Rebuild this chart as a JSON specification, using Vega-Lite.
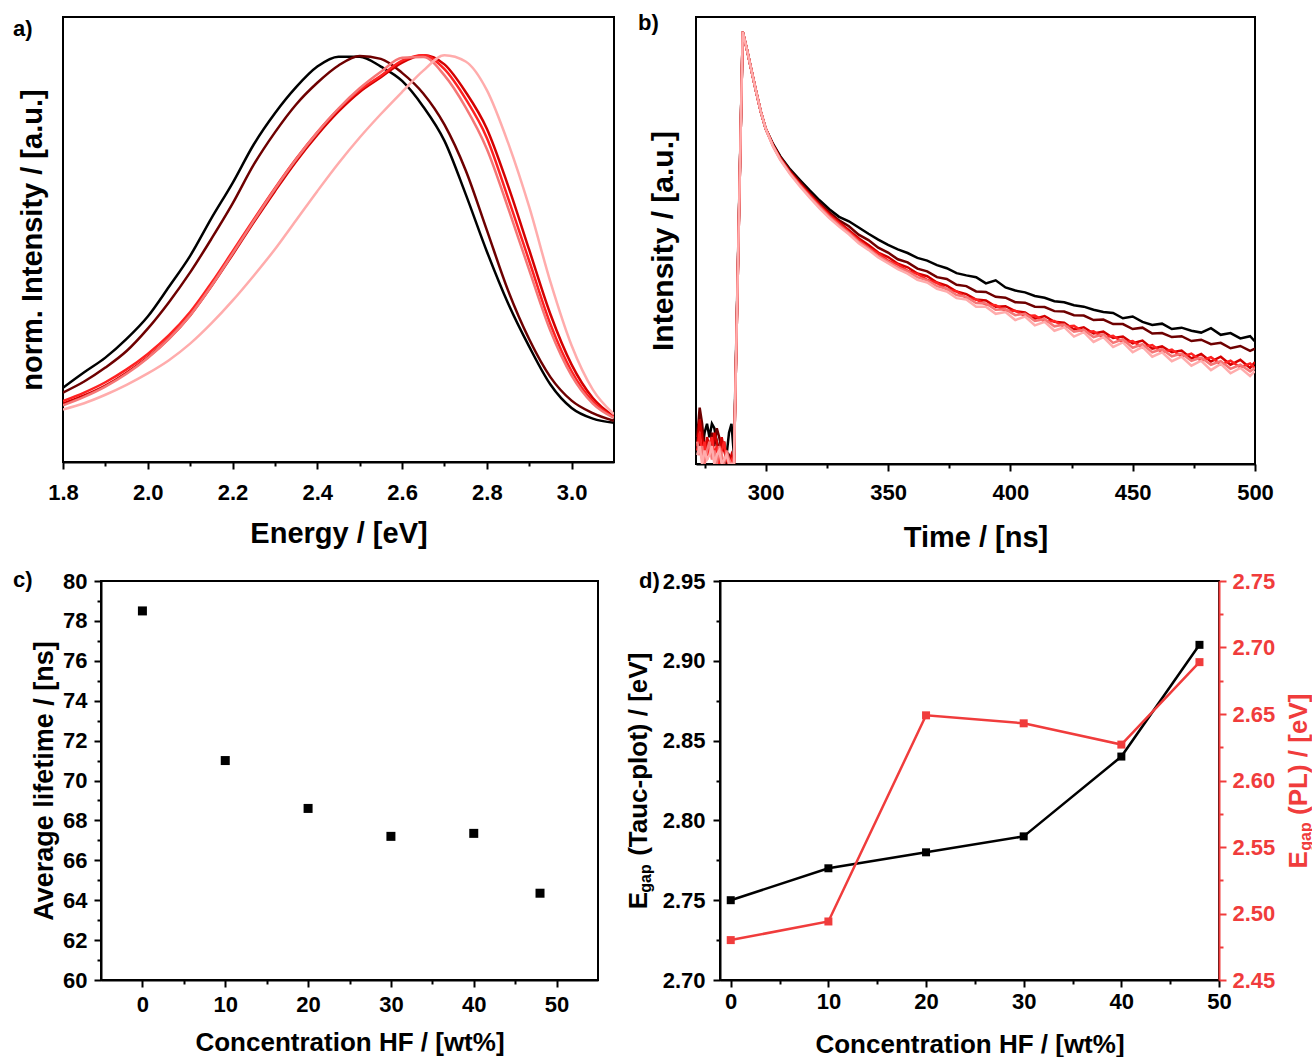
{
  "$schema": "https://vega.github.io/schema/vega-lite/v6.json",
  "background": "white",
  "padding": {"left": 0, "top": 11, "right": 0, "bottom": 0},
  "autosize": {"type": "pad"},
  "config": {
    "font": "Liberation Sans",
    "view": {"stroke": "#000000", "strokeWidth": 2},
    "axis": {"grid": false, "domainColor": "#000000", "domainWidth": 2, "tickColor": "#000000", "tickWidth": 2, "tickSize": 7,
             "labelFont": "Liberation Sans", "labelFontSize": 22, "labelFontWeight": "bold", "labelColor": "#000000",
             "labelFlush": false, "labelOverlap": false,
             "titleFont": "Liberation Sans", "titleFontSize": 26, "titleFontWeight": "bold", "titleColor": "#000000"},
    "title": {"font": "Liberation Sans", "fontSize": 22, "fontWeight": "bold", "color": "#000000", "anchor": "start", "frame": "group", "baseline": "middle", "offset": 0}
  },
  "datasets": {
    "pl": [
      {"s":"0","e":1.80,"v":0.095},{"s":"0","e":1.85,"v":0.137},{"s":"0","e":1.90,"v":0.177},{"s":"0","e":1.95,"v":0.228},{"s":"0","e":2.00,"v":0.289},{"s":"0","e":2.05,"v":0.370},{"s":"0","e":2.10,"v":0.454},{"s":"0","e":2.15,"v":0.556},{"s":"0","e":2.20,"v":0.652},{"s":"0","e":2.25,"v":0.757},{"s":"0","e":2.30,"v":0.842},{"s":"0","e":2.35,"v":0.913},{"s":"0","e":2.40,"v":0.969},{"s":"0","e":2.45,"v":0.996},{"s":"0","e":2.50,"v":0.996},{"s":"0","e":2.55,"v":0.969},{"s":"0","e":2.60,"v":0.930},{"s":"0","e":2.65,"v":0.860},{"s":"0","e":2.70,"v":0.767},{"s":"0","e":2.75,"v":0.622},{"s":"0","e":2.80,"v":0.466},{"s":"0","e":2.85,"v":0.325},{"s":"0","e":2.90,"v":0.207},{"s":"0","e":2.95,"v":0.104},{"s":"0","e":3.00,"v":0.040},{"s":"0","e":3.05,"v":0.011},{"s":"0","e":3.10,"v":0.000},
      {"s":"10","e":1.80,"v":0.082},{"s":"10","e":1.85,"v":0.112},{"s":"10","e":1.90,"v":0.150},{"s":"10","e":1.95,"v":0.195},{"s":"10","e":2.00,"v":0.256},{"s":"10","e":2.05,"v":0.328},{"s":"10","e":2.10,"v":0.409},{"s":"10","e":2.15,"v":0.500},{"s":"10","e":2.20,"v":0.596},{"s":"10","e":2.25,"v":0.702},{"s":"10","e":2.30,"v":0.790},{"s":"10","e":2.35,"v":0.866},{"s":"10","e":2.40,"v":0.925},{"s":"10","e":2.45,"v":0.972},{"s":"10","e":2.50,"v":0.998},{"s":"10","e":2.55,"v":0.990},{"s":"10","e":2.60,"v":0.952},{"s":"10","e":2.65,"v":0.896},{"s":"10","e":2.70,"v":0.811},{"s":"10","e":2.75,"v":0.687},{"s":"10","e":2.80,"v":0.524},{"s":"10","e":2.85,"v":0.360},{"s":"10","e":2.90,"v":0.227},{"s":"10","e":2.95,"v":0.124},{"s":"10","e":3.00,"v":0.060},{"s":"10","e":3.05,"v":0.026},{"s":"10","e":3.10,"v":0.005},
      {"s":"20","e":1.80,"v":0.052},{"s":"20","e":1.85,"v":0.074},{"s":"20","e":1.90,"v":0.101},{"s":"20","e":1.95,"v":0.136},{"s":"20","e":2.00,"v":0.178},{"s":"20","e":2.05,"v":0.229},{"s":"20","e":2.10,"v":0.292},{"s":"20","e":2.15,"v":0.371},{"s":"20","e":2.20,"v":0.457},{"s":"20","e":2.25,"v":0.545},{"s":"20","e":2.30,"v":0.630},{"s":"20","e":2.35,"v":0.711},{"s":"20","e":2.40,"v":0.783},{"s":"20","e":2.45,"v":0.847},{"s":"20","e":2.50,"v":0.900},{"s":"20","e":2.55,"v":0.940},{"s":"20","e":2.60,"v":0.980},{"s":"20","e":2.65,"v":1.000},{"s":"20","e":2.70,"v":0.975},{"s":"20","e":2.75,"v":0.900},{"s":"20","e":2.80,"v":0.800},{"s":"20","e":2.85,"v":0.645},{"s":"20","e":2.90,"v":0.470},{"s":"20","e":2.95,"v":0.295},{"s":"20","e":3.00,"v":0.158},{"s":"20","e":3.05,"v":0.067},{"s":"20","e":3.10,"v":0.017},
      {"s":"30","e":1.80,"v":0.059},{"s":"30","e":1.85,"v":0.082},{"s":"30","e":1.90,"v":0.110},{"s":"30","e":1.95,"v":0.145},{"s":"30","e":2.00,"v":0.187},{"s":"30","e":2.05,"v":0.238},{"s":"30","e":2.10,"v":0.301},{"s":"30","e":2.15,"v":0.380},{"s":"30","e":2.20,"v":0.466},{"s":"30","e":2.25,"v":0.553},{"s":"30","e":2.30,"v":0.638},{"s":"30","e":2.35,"v":0.718},{"s":"30","e":2.40,"v":0.790},{"s":"30","e":2.45,"v":0.853},{"s":"30","e":2.50,"v":0.905},{"s":"30","e":2.55,"v":0.944},{"s":"30","e":2.60,"v":0.985},{"s":"30","e":2.65,"v":1.000},{"s":"30","e":2.70,"v":0.962},{"s":"30","e":2.75,"v":0.881},{"s":"30","e":2.80,"v":0.775},{"s":"30","e":2.85,"v":0.612},{"s":"30","e":2.90,"v":0.440},{"s":"30","e":2.95,"v":0.268},{"s":"30","e":3.00,"v":0.140},{"s":"30","e":3.05,"v":0.058},{"s":"30","e":3.10,"v":0.014},
      {"s":"40","e":1.80,"v":0.047},{"s":"40","e":1.85,"v":0.070},{"s":"40","e":1.90,"v":0.098},{"s":"40","e":1.95,"v":0.133},{"s":"40","e":2.00,"v":0.176},{"s":"40","e":2.05,"v":0.228},{"s":"40","e":2.10,"v":0.292},{"s":"40","e":2.15,"v":0.372},{"s":"40","e":2.20,"v":0.460},{"s":"40","e":2.25,"v":0.549},{"s":"40","e":2.30,"v":0.636},{"s":"40","e":2.35,"v":0.717},{"s":"40","e":2.40,"v":0.790},{"s":"40","e":2.45,"v":0.855},{"s":"40","e":2.50,"v":0.910},{"s":"40","e":2.55,"v":0.955},{"s":"40","e":2.60,"v":0.993},{"s":"40","e":2.65,"v":0.995},{"s":"40","e":2.70,"v":0.945},{"s":"40","e":2.75,"v":0.858},{"s":"40","e":2.80,"v":0.745},{"s":"40","e":2.85,"v":0.585},{"s":"40","e":2.90,"v":0.415},{"s":"40","e":2.95,"v":0.250},{"s":"40","e":3.00,"v":0.128},{"s":"40","e":3.05,"v":0.052},{"s":"40","e":3.10,"v":0.013},
      {"s":"48","e":1.80,"v":0.036},{"s":"48","e":1.85,"v":0.053},{"s":"48","e":1.90,"v":0.076},{"s":"48","e":1.95,"v":0.103},{"s":"48","e":2.00,"v":0.134},{"s":"48","e":2.05,"v":0.170},{"s":"48","e":2.10,"v":0.215},{"s":"48","e":2.15,"v":0.270},{"s":"48","e":2.20,"v":0.332},{"s":"48","e":2.25,"v":0.400},{"s":"48","e":2.30,"v":0.472},{"s":"48","e":2.35,"v":0.551},{"s":"48","e":2.40,"v":0.630},{"s":"48","e":2.45,"v":0.706},{"s":"48","e":2.50,"v":0.776},{"s":"48","e":2.55,"v":0.840},{"s":"48","e":2.60,"v":0.900},{"s":"48","e":2.65,"v":0.958},{"s":"48","e":2.70,"v":1.000},{"s":"48","e":2.75,"v":0.983},{"s":"48","e":2.80,"v":0.905},{"s":"48","e":2.85,"v":0.762},{"s":"48","e":2.90,"v":0.587},{"s":"48","e":2.95,"v":0.383},{"s":"48","e":3.00,"v":0.210},{"s":"48","e":3.05,"v":0.090},{"s":"48","e":3.10,"v":0.023}
    ],
    "trpl": [
      {"s":"0","t":272,"v":0.02},{"s":"0","t":273,"v":0.05},{"s":"0","t":274,"v":0.03},{"s":"0","t":275,"v":0.07},{"s":"0","t":276,"v":0.09},{"s":"0","t":277,"v":0.06},{"s":"0","t":278,"v":0.09},{"s":"0","t":279,"v":0.08},{"s":"0","t":280,"v":0.05},{"s":"0","t":281,"v":0.03},{"s":"0","t":282,"v":0.01},{"s":"0","t":283,"v":0.0},{"s":"0","t":284,"v":0.02},{"s":"0","t":285,"v":0.07},{"s":"0","t":286,"v":0.09},{"s":"0","t":287,"v":0.02},
      {"s":"0","t":290.6,"v":0.967},{"s":"0","t":292.2,"v":0.93},{"s":"0","t":294,"v":0.885},{"s":"0","t":296,"v":0.835},{"s":"0","t":298,"v":0.788},{"s":"0","t":300,"v":0.75},
      {"s":"0","t":303,"v":0.716},{"s":"0","t":306,"v":0.688},{"s":"0","t":310,"v":0.659},{"s":"0","t":314,"v":0.635},{"s":"0","t":318,"v":0.612},{"s":"0","t":322,"v":0.59},
      {"s":"0","t":326,"v":0.570},{"s":"0","t":330,"v":0.553},{"s":"0","t":334,"v":0.543},{"s":"0","t":338,"v":0.529},{"s":"0","t":342,"v":0.515},{"s":"0","t":346,"v":0.502},{"s":"0","t":350,"v":0.490},{"s":"0","t":354,"v":0.480},{"s":"0","t":358,"v":0.472},{"s":"0","t":362,"v":0.461},{"s":"0","t":366,"v":0.455},{"s":"0","t":370,"v":0.445},{"s":"0","t":374,"v":0.438},{"s":"0","t":378,"v":0.427},{"s":"0","t":382,"v":0.422},{"s":"0","t":386,"v":0.418},{"s":"0","t":390,"v":0.404},{"s":"0","t":394,"v":0.411},{"s":"0","t":398,"v":0.395},{"s":"0","t":402,"v":0.388},{"s":"0","t":406,"v":0.384},{"s":"0","t":410,"v":0.376},{"s":"0","t":414,"v":0.372},{"s":"0","t":418,"v":0.364},{"s":"0","t":422,"v":0.362},{"s":"0","t":426,"v":0.355},{"s":"0","t":430,"v":0.352},{"s":"0","t":434,"v":0.345},{"s":"0","t":438,"v":0.340},{"s":"0","t":442,"v":0.338},{"s":"0","t":446,"v":0.326},{"s":"0","t":450,"v":0.330},{"s":"0","t":454,"v":0.318},{"s":"0","t":458,"v":0.311},{"s":"0","t":462,"v":0.314},{"s":"0","t":466,"v":0.302},{"s":"0","t":470,"v":0.305},{"s":"0","t":474,"v":0.298},{"s":"0","t":478,"v":0.294},{"s":"0","t":482,"v":0.304},{"s":"0","t":486,"v":0.289},{"s":"0","t":490,"v":0.293},{"s":"0","t":494,"v":0.281},{"s":"0","t":498,"v":0.286},{"s":"0","t":500,"v":0.274},
      {"s":"10","t":272,"v":0.06},{"s":"10","t":273,"v":0.126},{"s":"10","t":274,"v":0.09},{"s":"10","t":275,"v":0.03},{"s":"10","t":276,"v":0.05},{"s":"10","t":277,"v":0.02},{"s":"10","t":278,"v":0.07},{"s":"10","t":279,"v":0.04},{"s":"10","t":280,"v":0.08},{"s":"10","t":281,"v":0.06},{"s":"10","t":282,"v":0.03},{"s":"10","t":283,"v":0.05},{"s":"10","t":284,"v":0.0},{"s":"10","t":285,"v":0.02},{"s":"10","t":286,"v":0.01},{"s":"10","t":287,"v":0.0},
      {"s":"10","t":290.6,"v":0.967},{"s":"10","t":292.2,"v":0.93},{"s":"10","t":294,"v":0.885},{"s":"10","t":296,"v":0.835},{"s":"10","t":298,"v":0.788},{"s":"10","t":300,"v":0.75},
      {"s":"10","t":303,"v":0.714},{"s":"10","t":306,"v":0.686},{"s":"10","t":310,"v":0.656},{"s":"10","t":314,"v":0.631},{"s":"10","t":318,"v":0.606},{"s":"10","t":322,"v":0.584},
      {"s":"10","t":326,"v":0.563},{"s":"10","t":330,"v":0.545},{"s":"10","t":334,"v":0.532},{"s":"10","t":338,"v":0.513},{"s":"10","t":342,"v":0.501},{"s":"10","t":346,"v":0.484},{"s":"10","t":350,"v":0.473},{"s":"10","t":354,"v":0.458},{"s":"10","t":358,"v":0.451},{"s":"10","t":362,"v":0.437},{"s":"10","t":366,"v":0.431},{"s":"10","t":370,"v":0.418},{"s":"10","t":374,"v":0.414},{"s":"10","t":378,"v":0.401},{"s":"10","t":382,"v":0.398},{"s":"10","t":386,"v":0.386},{"s":"10","t":390,"v":0.385},{"s":"10","t":394,"v":0.374},{"s":"10","t":398,"v":0.372},{"s":"10","t":402,"v":0.362},{"s":"10","t":406,"v":0.361},{"s":"10","t":410,"v":0.352},{"s":"10","t":414,"v":0.351},{"s":"10","t":418,"v":0.342},{"s":"10","t":422,"v":0.341},{"s":"10","t":426,"v":0.333},{"s":"10","t":430,"v":0.332},{"s":"10","t":434,"v":0.322},{"s":"10","t":438,"v":0.323},{"s":"10","t":442,"v":0.313},{"s":"10","t":446,"v":0.313},{"s":"10","t":450,"v":0.302},{"s":"10","t":454,"v":0.305},{"s":"10","t":458,"v":0.292},{"s":"10","t":462,"v":0.293},{"s":"10","t":466,"v":0.284},{"s":"10","t":470,"v":0.286},{"s":"10","t":474,"v":0.275},{"s":"10","t":478,"v":0.278},{"s":"10","t":482,"v":0.268},{"s":"10","t":486,"v":0.271},{"s":"10","t":490,"v":0.259},{"s":"10","t":494,"v":0.264},{"s":"10","t":498,"v":0.253},{"s":"10","t":500,"v":0.258},
      {"s":"20","t":272,"v":0.04},{"s":"20","t":273,"v":0.10},{"s":"20","t":274,"v":0.06},{"s":"20","t":275,"v":0.02},{"s":"20","t":276,"v":0.06},{"s":"20","t":277,"v":0.04},{"s":"20","t":278,"v":0.02},{"s":"20","t":279,"v":0.07},{"s":"20","t":280,"v":0.05},{"s":"20","t":281,"v":0.02},{"s":"20","t":282,"v":0.06},{"s":"20","t":283,"v":0.03},{"s":"20","t":284,"v":0.01},{"s":"20","t":285,"v":0.0},{"s":"20","t":286,"v":0.02},{"s":"20","t":287,"v":0.0},
      {"s":"20","t":290.6,"v":0.967},{"s":"20","t":292.2,"v":0.93},{"s":"20","t":294,"v":0.885},{"s":"20","t":296,"v":0.835},{"s":"20","t":298,"v":0.788},{"s":"20","t":300,"v":0.75},
      {"s":"20","t":303,"v":0.713},{"s":"20","t":306,"v":0.684},{"s":"20","t":310,"v":0.653},{"s":"20","t":314,"v":0.627},{"s":"20","t":318,"v":0.603},{"s":"20","t":322,"v":0.58},
      {"s":"20","t":326,"v":0.559},{"s":"20","t":330,"v":0.541},{"s":"20","t":334,"v":0.523},{"s":"20","t":338,"v":0.505},{"s":"20","t":342,"v":0.490},{"s":"20","t":346,"v":0.473},{"s":"20","t":350,"v":0.463},{"s":"20","t":354,"v":0.448},{"s":"20","t":358,"v":0.440},{"s":"20","t":362,"v":0.426},{"s":"20","t":366,"v":0.420},{"s":"20","t":370,"v":0.406},{"s":"20","t":374,"v":0.399},{"s":"20","t":378,"v":0.386},{"s":"20","t":382,"v":0.380},{"s":"20","t":386,"v":0.368},{"s":"20","t":390,"v":0.366},{"s":"20","t":394,"v":0.352},{"s":"20","t":398,"v":0.353},{"s":"20","t":402,"v":0.342},{"s":"20","t":406,"v":0.339},{"s":"20","t":410,"v":0.325},{"s":"20","t":414,"v":0.331},{"s":"20","t":418,"v":0.318},{"s":"20","t":422,"v":0.316},{"s":"20","t":426,"v":0.301},{"s":"20","t":430,"v":0.306},{"s":"20","t":434,"v":0.292},{"s":"20","t":438,"v":0.296},{"s":"20","t":442,"v":0.282},{"s":"20","t":446,"v":0.285},{"s":"20","t":450,"v":0.270},{"s":"20","t":454,"v":0.276},{"s":"20","t":458,"v":0.258},{"s":"20","t":462,"v":0.263},{"s":"20","t":466,"v":0.250},{"s":"20","t":470,"v":0.254},{"s":"20","t":474,"v":0.236},{"s":"20","t":478,"v":0.246},{"s":"20","t":482,"v":0.229},{"s":"20","t":486,"v":0.240},{"s":"20","t":490,"v":0.222},{"s":"20","t":494,"v":0.233},{"s":"20","t":498,"v":0.215},{"s":"20","t":500,"v":0.228},
      {"s":"30","t":272,"v":0.03},{"s":"30","t":273,"v":0.07},{"s":"30","t":274,"v":0.02},{"s":"30","t":275,"v":0.05},{"s":"30","t":276,"v":0.01},{"s":"30","t":277,"v":0.04},{"s":"30","t":278,"v":0.06},{"s":"30","t":279,"v":0.02},{"s":"30","t":280,"v":0.04},{"s":"30","t":281,"v":0.0},{"s":"30","t":282,"v":0.03},{"s":"30","t":283,"v":0.05},{"s":"30","t":284,"v":0.01},{"s":"30","t":285,"v":0.0},{"s":"30","t":286,"v":0.01},{"s":"30","t":287,"v":0.0},
      {"s":"30","t":290.6,"v":0.967},{"s":"30","t":292.2,"v":0.93},{"s":"30","t":294,"v":0.885},{"s":"30","t":296,"v":0.835},{"s":"30","t":298,"v":0.788},{"s":"30","t":300,"v":0.75},
      {"s":"30","t":303,"v":0.712},{"s":"30","t":306,"v":0.682},{"s":"30","t":310,"v":0.651},{"s":"30","t":314,"v":0.625},{"s":"30","t":318,"v":0.601},{"s":"30","t":322,"v":0.578},
      {"s":"30","t":326,"v":0.556},{"s":"30","t":330,"v":0.538},{"s":"30","t":334,"v":0.519},{"s":"30","t":338,"v":0.501},{"s":"30","t":342,"v":0.484},{"s":"30","t":346,"v":0.471},{"s":"30","t":350,"v":0.455},{"s":"30","t":354,"v":0.446},{"s":"30","t":358,"v":0.432},{"s":"30","t":362,"v":0.425},{"s":"30","t":366,"v":0.412},{"s":"30","t":370,"v":0.405},{"s":"30","t":374,"v":0.391},{"s":"30","t":378,"v":0.386},{"s":"30","t":382,"v":0.372},{"s":"30","t":386,"v":0.368},{"s":"30","t":390,"v":0.357},{"s":"30","t":394,"v":0.355},{"s":"30","t":398,"v":0.343},{"s":"30","t":402,"v":0.343},{"s":"30","t":406,"v":0.331},{"s":"30","t":410,"v":0.332},{"s":"30","t":414,"v":0.319},{"s":"30","t":418,"v":0.320},{"s":"30","t":422,"v":0.307},{"s":"30","t":426,"v":0.309},{"s":"30","t":430,"v":0.295},{"s":"30","t":434,"v":0.297},{"s":"30","t":438,"v":0.283},{"s":"30","t":442,"v":0.287},{"s":"30","t":446,"v":0.272},{"s":"30","t":450,"v":0.275},{"s":"30","t":454,"v":0.261},{"s":"30","t":458,"v":0.266},{"s":"30","t":462,"v":0.250},{"s":"30","t":466,"v":0.256},{"s":"30","t":470,"v":0.240},{"s":"30","t":474,"v":0.247},{"s":"30","t":478,"v":0.231},{"s":"30","t":482,"v":0.239},{"s":"30","t":486,"v":0.223},{"s":"30","t":490,"v":0.231},{"s":"30","t":494,"v":0.216},{"s":"30","t":498,"v":0.225},{"s":"30","t":500,"v":0.214},
      {"s":"40","t":272,"v":0.05},{"s":"40","t":273,"v":0.02},{"s":"40","t":274,"v":0.04},{"s":"40","t":275,"v":0.0},{"s":"40","t":276,"v":0.03},{"s":"40","t":277,"v":0.05},{"s":"40","t":278,"v":0.01},{"s":"40","t":279,"v":0.03},{"s":"40","t":280,"v":0.0},{"s":"40","t":281,"v":0.04},{"s":"40","t":282,"v":0.02},{"s":"40","t":283,"v":0.0},{"s":"40","t":284,"v":0.03},{"s":"40","t":285,"v":0.01},{"s":"40","t":286,"v":0.0},{"s":"40","t":287,"v":0.0},
      {"s":"40","t":290.6,"v":0.967},{"s":"40","t":292.2,"v":0.93},{"s":"40","t":294,"v":0.885},{"s":"40","t":296,"v":0.835},{"s":"40","t":298,"v":0.788},{"s":"40","t":300,"v":0.75},
      {"s":"40","t":303,"v":0.711},{"s":"40","t":306,"v":0.681},{"s":"40","t":310,"v":0.65},{"s":"40","t":314,"v":0.623},{"s":"40","t":318,"v":0.598},{"s":"40","t":322,"v":0.575},
      {"s":"40","t":326,"v":0.553},{"s":"40","t":330,"v":0.534},{"s":"40","t":334,"v":0.517},{"s":"40","t":338,"v":0.497},{"s":"40","t":342,"v":0.482},{"s":"40","t":346,"v":0.465},{"s":"40","t":350,"v":0.453},{"s":"40","t":354,"v":0.440},{"s":"40","t":358,"v":0.431},{"s":"40","t":362,"v":0.418},{"s":"40","t":366,"v":0.411},{"s":"40","t":370,"v":0.398},{"s":"40","t":374,"v":0.392},{"s":"40","t":378,"v":0.378},{"s":"40","t":382,"v":0.374},{"s":"40","t":386,"v":0.360},{"s":"40","t":390,"v":0.359},{"s":"40","t":394,"v":0.345},{"s":"40","t":398,"v":0.346},{"s":"40","t":402,"v":0.333},{"s":"40","t":406,"v":0.336},{"s":"40","t":410,"v":0.320},{"s":"40","t":414,"v":0.324},{"s":"40","t":418,"v":0.308},{"s":"40","t":422,"v":0.312},{"s":"40","t":426,"v":0.296},{"s":"40","t":430,"v":0.300},{"s":"40","t":434,"v":0.284},{"s":"40","t":438,"v":0.290},{"s":"40","t":442,"v":0.271},{"s":"40","t":446,"v":0.279},{"s":"40","t":450,"v":0.260},{"s":"40","t":454,"v":0.268},{"s":"40","t":458,"v":0.250},{"s":"40","t":462,"v":0.257},{"s":"40","t":466,"v":0.241},{"s":"40","t":470,"v":0.247},{"s":"40","t":474,"v":0.231},{"s":"40","t":478,"v":0.238},{"s":"40","t":482,"v":0.222},{"s":"40","t":486,"v":0.230},{"s":"40","t":490,"v":0.213},{"s":"40","t":494,"v":0.222},{"s":"40","t":498,"v":0.207},{"s":"40","t":500,"v":0.215},
      {"s":"48","t":272,"v":0.02},{"s":"48","t":273,"v":0.04},{"s":"48","t":274,"v":0.0},{"s":"48","t":275,"v":0.03},{"s":"48","t":276,"v":0.01},{"s":"48","t":277,"v":0.02},{"s":"48","t":278,"v":0.04},{"s":"48","t":279,"v":0.0},{"s":"48","t":280,"v":0.02},{"s":"48","t":281,"v":0.03},{"s":"48","t":282,"v":0.0},{"s":"48","t":283,"v":0.01},{"s":"48","t":284,"v":0.02},{"s":"48","t":285,"v":0.0},{"s":"48","t":286,"v":0.0},{"s":"48","t":287,"v":0.0},
      {"s":"48","t":290.6,"v":0.967},{"s":"48","t":292.2,"v":0.93},{"s":"48","t":294,"v":0.885},{"s":"48","t":296,"v":0.835},{"s":"48","t":298,"v":0.788},{"s":"48","t":300,"v":0.75},
      {"s":"48","t":303,"v":0.71},{"s":"48","t":306,"v":0.68},{"s":"48","t":310,"v":0.648},{"s":"48","t":314,"v":0.621},{"s":"48","t":318,"v":0.596},{"s":"48","t":322,"v":0.572},
      {"s":"48","t":326,"v":0.550},{"s":"48","t":330,"v":0.531},{"s":"48","t":334,"v":0.514},{"s":"48","t":338,"v":0.494},{"s":"48","t":342,"v":0.479},{"s":"48","t":346,"v":0.462},{"s":"48","t":350,"v":0.449},{"s":"48","t":354,"v":0.436},{"s":"48","t":358,"v":0.426},{"s":"48","t":362,"v":0.412},{"s":"48","t":366,"v":0.406},{"s":"48","t":370,"v":0.392},{"s":"48","t":374,"v":0.386},{"s":"48","t":378,"v":0.371},{"s":"48","t":382,"v":0.368},{"s":"48","t":386,"v":0.352},{"s":"48","t":390,"v":0.352},{"s":"48","t":394,"v":0.336},{"s":"48","t":398,"v":0.340},{"s":"48","t":402,"v":0.322},{"s":"48","t":406,"v":0.330},{"s":"48","t":410,"v":0.310},{"s":"48","t":414,"v":0.318},{"s":"48","t":418,"v":0.298},{"s":"48","t":422,"v":0.306},{"s":"48","t":426,"v":0.285},{"s":"48","t":430,"v":0.295},{"s":"48","t":434,"v":0.273},{"s":"48","t":438,"v":0.284},{"s":"48","t":442,"v":0.262},{"s":"48","t":446,"v":0.272},{"s":"48","t":450,"v":0.250},{"s":"48","t":454,"v":0.262},{"s":"48","t":458,"v":0.240},{"s":"48","t":462,"v":0.250},{"s":"48","t":466,"v":0.230},{"s":"48","t":470,"v":0.240},{"s":"48","t":474,"v":0.220},{"s":"48","t":478,"v":0.231},{"s":"48","t":482,"v":0.210},{"s":"48","t":486,"v":0.224},{"s":"48","t":490,"v":0.203},{"s":"48","t":494,"v":0.215},{"s":"48","t":498,"v":0.197},{"s":"48","t":500,"v":0.208}
    ],
    "lifetime": [
      {"c":0,"tau":78.5},{"c":10,"tau":71.0},{"c":20,"tau":68.6},{"c":30,"tau":67.2},{"c":40,"tau":67.35},{"c":48,"tau":64.35}
    ],
    "gap": [
      {"c":0,"tauc":2.75,"pl":2.48},{"c":10,"tauc":2.77,"pl":2.494},{"c":20,"tauc":2.78,"pl":2.649},{"c":30,"tauc":2.79,"pl":2.643},{"c":40,"tauc":2.84,"pl":2.627},{"c":48,"tauc":2.91,"pl":2.689}
    ]
  },
  "spacing": 15,
  "vconcat": [
    {
      "spacing": 11,
      "hconcat": [
        {"width": 1, "height": 1, "data": {"values": []}, "mark": "point", "encoding": {}, "view": {"stroke": null}},
        {
          "spacing": 22,
          "hconcat": [
            {
              "width": 551, "height": 445,
              "title": {"text": "a)", "dx": -50, "dy": 28},
              "data": {"name": "pl"},
              "mark": {"type": "line", "strokeWidth": 2.5, "interpolate": "monotone", "clip": true},
              "encoding": {
                "x": {"field": "e", "type": "quantitative",
                      "scale": {"domain": [1.8, 3.1], "nice": false, "zero": false},
                      "axis": {"title": "Energy / [eV]", "titleFontSize": 29,
                               "values": [1.8, 1.9, 2.0, 2.1, 2.2, 2.3, 2.4, 2.5, 2.6, 2.7, 2.8, 2.9, 3.0],
                               "labelExpr": "round(datum.value*10) % 2 == 1 ? '' : format(datum.value, '.1f')",
                               "tickSize": {"condition": {"test": "round(datum.value*10) % 2 == 1", "value": 4}, "value": 7},
                               "labelPadding": 13, "titlePadding": 16}},
                "y": {"field": "v", "type": "quantitative",
                      "scale": {"domain": [-0.107, 1.104], "nice": false, "zero": false},
                      "axis": {"title": "norm. Intensity / [a.u.]", "titleFontSize": 29, "labels": false, "ticks": false, "domain": false,
                               "titleX": -22, "titleBaseline": "alphabetic", "titleAngle": 270}},
                "color": {"field": "s", "type": "nominal", "legend": null,
                          "scale": {"domain": ["0", "10", "20", "30", "40", "48"],
                                    "range": ["#000000", "#6e0000", "#d40000", "#ff2222", "#f57676", "#ffacac"]}}
              }
            },
            {
              "width": 559, "height": 447,
              "title": {"text": "b)", "dx": -58, "dy": 22},
              "data": {"name": "trpl"},
              "mark": {"type": "line", "strokeWidth": 2.5, "clip": true},
              "encoding": {
                "x": {"field": "t", "type": "quantitative",
                      "scale": {"domain": [271.5, 500], "nice": false, "zero": false},
                      "axis": {"title": "Time / [ns]", "titleFontSize": 29,
                               "values": [275, 300, 325, 350, 375, 400, 425, 450, 475, 500],
                               "labelExpr": "datum.value % 50 == 0 ? format(datum.value, 'd') : ''",
                               "tickSize": {"condition": {"test": "datum.value % 50 != 0", "value": 4}, "value": 7},
                               "labelPadding": 11, "titlePadding": 20}},
                "y": {"field": "v", "type": "quantitative",
                      "scale": {"domain": [0, 1], "nice": false, "zero": false},
                      "axis": {"title": "Intensity / [a.u.]", "titleFontSize": 30, "labels": false, "ticks": false, "domain": false,
                               "titleX": -24, "titleBaseline": "alphabetic", "titleAngle": 270}},
                "color": {"field": "s", "type": "nominal", "legend": null,
                          "scale": {"domain": ["0", "10", "20", "30", "40", "48"],
                                    "range": ["#000000", "#6e0000", "#d40000", "#ff2222", "#f57676", "#ffacac"]}}
              }
            }
          ]
        }
      ]
    },
    {
      "spacing": 11,
      "hconcat": [
        {"width": 1, "height": 1, "data": {"values": []}, "mark": "point", "encoding": {}, "view": {"stroke": null}},
        {
          "spacing": 25,
          "hconcat": [
            {
              "width": 497, "height": 399,
              "title": {"text": "c)", "dx": -88, "dy": 26},
              "data": {"name": "lifetime"},
              "mark": {"type": "square", "size": 81, "color": "#000000", "opacity": 1},
              "encoding": {
                "x": {"field": "c", "type": "quantitative",
                      "scale": {"domain": [-5, 55], "nice": false, "zero": false},
                      "axis": {"title": "Concentration HF / [wt%]",
                               "values": [0, 5, 10, 15, 20, 25, 30, 35, 40, 45, 50],
                               "labelExpr": "datum.value % 10 == 0 ? format(datum.value, 'd') : ''",
                               "tickSize": {"condition": {"test": "datum.value % 10 != 0", "value": 4}, "value": 7},
                               "labelPadding": 7, "titlePadding": 14}},
                "y": {"field": "tau", "type": "quantitative",
                      "scale": {"domain": [60, 80], "nice": false, "zero": false},
                      "axis": {"title": "Average lifetime / [ns]", "titleFontSize": 27,
                               "values": [60, 61, 62, 63, 64, 65, 66, 67, 68, 69, 70, 71, 72, 73, 74, 75, 76, 77, 78, 79, 80],
                               "labelExpr": "datum.value % 2 == 0 ? format(datum.value, 'd') : ''",
                               "tickSize": {"condition": {"test": "datum.value % 2 != 0", "value": 4}, "value": 7},
                               "labelPadding": 7, "titleX": -49, "titleBaseline": "alphabetic", "titleAngle": 270}}
              }
            },
            {
              "width": 499, "height": 399,
              "title": {"text": "d)", "dx": -81, "dy": 27},
              "data": {"name": "gap"},
              "layer": [
                {
                  "layer": [
                    {
                      "mark": {"type": "line", "color": "#000000", "strokeWidth": 2.5},
                      "encoding": {
                        "x": {"field": "c", "type": "quantitative",
                              "scale": {"domain": [-1.1, 50], "nice": false, "zero": false},
                              "axis": {"title": "Concentration HF / [wt%]",
                                       "values": [0, 5, 10, 15, 20, 25, 30, 35, 40, 45, 50],
                                       "labelExpr": "datum.value % 10 == 0 ? format(datum.value, 'd') : ''",
                                       "tickSize": {"condition": {"test": "datum.value % 10 != 0", "value": 4}, "value": 7},
                                       "labelPadding": 4, "titlePadding": 19}},
                        "y": {"field": "tauc", "type": "quantitative",
                              "scale": {"domain": [2.70, 2.95], "nice": false, "zero": false},
                              "axis": {"orient": "left", "title": "E\u00a0\u00a0\u00a0\u00a0\u00a0(Tauc-plot) / [eV]",
                                       "values": [2.7, 2.725, 2.75, 2.775, 2.8, 2.825, 2.85, 2.875, 2.9, 2.925, 2.95],
                                       "labelExpr": "round(datum.value*1000) % 50 == 0 ? format(datum.value, '.2f') : ''",
                                       "tickSize": {"condition": {"test": "round(datum.value*1000) % 50 != 0", "value": 4}, "value": 7},
                                       "labelPadding": 8, "titleX": -74, "titleBaseline": "alphabetic", "titleAngle": 270}}
                      }
                    },
                    {
                      "mark": {"type": "square", "size": 64, "color": "#000000", "opacity": 1},
                      "encoding": {
                        "x": {"field": "c", "type": "quantitative", "scale": {"domain": [-1.1, 50], "nice": false, "zero": false}},
                        "y": {"field": "tauc", "type": "quantitative",
                              "scale": {"domain": [2.70, 2.95], "nice": false, "zero": false},
                              "axis": {"orient": "left", "title": "gap", "titleFontSize": 16, "labels": false, "ticks": false, "domain": false,
                                       "titleX": -70, "titleY": 297, "titleAngle": 270, "titleBaseline": "alphabetic", "titleAlign": "center"}}
                      }
                    }
                  ],
                  "resolve": {"axis": {"y": "independent"}}
                },
                {
                  "layer": [
                    {
                      "mark": {"type": "line", "color": "#f03c3c", "strokeWidth": 2.5},
                      "encoding": {
                        "x": {"field": "c", "type": "quantitative", "scale": {"domain": [-1.1, 50], "nice": false, "zero": false}},
                        "y": {"field": "pl", "type": "quantitative",
                              "scale": {"domain": [2.45, 2.75], "nice": false, "zero": false},
                              "axis": {"orient": "right", "title": "E\u00a0\u00a0\u00a0\u00a0\u00a0(PL) / [eV]",
                                       "values": [2.45, 2.475, 2.5, 2.525, 2.55, 2.575, 2.6, 2.625, 2.65, 2.675, 2.7, 2.725, 2.75],
                                       "labelExpr": "round(datum.value*1000) % 50 == 0 ? format(datum.value, '.2f') : ''",
                                       "tickSize": {"condition": {"test": "round(datum.value*1000) % 50 != 0", "value": 4}, "value": 7},
                                       "labelPadding": 6, "labelColor": "#f03c3c", "tickColor": "#f03c3c", "domainColor": "#f03c3c",
                                       "titleColor": "#f03c3c", "titleX": 87, "titleBaseline": "alphabetic", "titleAngle": 270}}
                      }
                    },
                    {
                      "mark": {"type": "square", "size": 64, "color": "#f03c3c", "opacity": 1},
                      "encoding": {
                        "x": {"field": "c", "type": "quantitative", "scale": {"domain": [-1.1, 50], "nice": false, "zero": false}},
                        "y": {"field": "pl", "type": "quantitative",
                              "scale": {"domain": [2.45, 2.75], "nice": false, "zero": false},
                              "axis": {"orient": "right", "title": "gap", "titleFontSize": 16, "titleColor": "#f03c3c", "labels": false, "ticks": false, "domain": false,
                                       "titleX": 91, "titleY": 255, "titleAngle": 270, "titleBaseline": "alphabetic", "titleAlign": "center"}}
                      }
                    }
                  ],
                  "resolve": {"axis": {"y": "independent"}}
                }
              ],
              "resolve": {"scale": {"y": "independent"}}
            }
          ]
        }
      ]
    }
  ]
}
